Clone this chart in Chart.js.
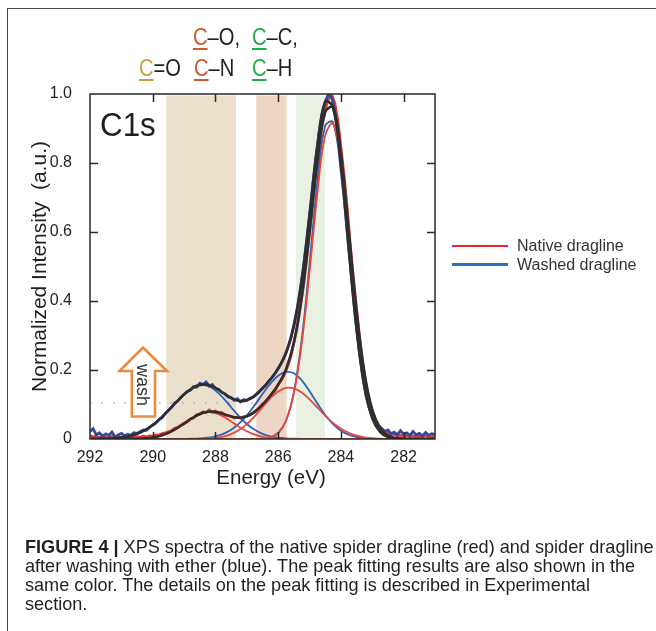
<!DOCTYPE html>
<html><head><meta charset="utf-8">
<script src="https://cdn.jsdelivr.net/npm/chart.js@4.4.1/dist/chart.umd.min.js"></script>
<style>
html,body{margin:0;padding:0;background:#fff;width:656px;height:631px;overflow:hidden;font-family:"Liberation Sans",Arial,Helvetica,sans-serif;color:#231f20;}
#frame{position:absolute;left:7px;top:8px;width:720px;height:720px;border:1.5px solid #4a4a4a;}
canvas{position:absolute;left:0;top:0;}
.t{position:absolute;white-space:nowrap;}
.lbl{font-size:24px;line-height:24px;transform-origin:0 50%;transform:scaleX(0.84);}
.u{text-decoration:underline;text-decoration-thickness:2px;text-underline-offset:3px;}
.gold{color:#c9a03c;}
.orng{color:#d2582a;}
.grn{color:#1fae4a;}
.leg{font-size:16px;line-height:16px;color:#333;}
.sw{position:absolute;left:452px;width:56px;height:2.5px;}
#cap{left:25px;top:537.8px;font-size:18.1px;line-height:18.9px;color:#231f20;}
</style></head>
<body>
<div id="frame"></div>
<canvas id="c" width="656" height="631"></canvas>

<div class="t lbl" style="left:193.3px;top:24.7px"><span class="u orng">C</span>–O,</div>
<div class="t lbl" style="left:251.7px;top:24.7px"><span class="u grn">C</span>–C,</div>
<div class="t lbl" style="left:139.3px;top:55.7px"><span class="u gold">C</span>=O</div>
<div class="t lbl" style="left:194px;top:55.7px"><span class="u orng">C</span>–N</div>
<div class="t lbl" style="left:251.7px;top:55.7px"><span class="u grn">C</span>–H</div>

<div class="t" style="left:100px;top:108px;font-size:33px;line-height:33px;transform-origin:0 50%;transform:scaleX(0.95);">C1s</div>

<svg class="t" style="left:0;top:0" width="656" height="631">
  <polygon points="143,347.5 167,371 155,371 155,416.5 131.8,416.5 131.8,371 119.5,371" fill="#fff" stroke="#ef8a3a" stroke-width="2.6" stroke-linejoin="miter"/>
</svg>
<div class="t" style="left:143px;top:385px;font-size:18px;line-height:18px;transform:translate(-50%,-50%) rotate(90deg);color:#333;">wash</div>

<div class="sw" style="top:244.5px;background:#e8262a"></div>
<div class="sw" style="top:263px;background:#2e6fba"></div>
<div class="t leg" style="left:517px;top:238px">Native dragline</div>
<div class="t leg" style="left:517px;top:256.5px">Washed dragline</div>

<div class="t" id="cap"><b>FIGURE 4 |</b> XPS spectra of the native spider dragline (red) and spider dragline<br>after washing with ether (blue). The peak fitting results are also shown in the<br>same color. The details on the peak fitting is described in Experimental<br>section.</div>

<script>
// ---- data ----
const energyRaw = [
 292.0,291.9,291.8,291.7,291.6,291.5,291.4,291.3,291.2,291.1,291.0,290.9,290.8,290.7,290.6,290.5,290.4,290.3,290.2,290.1,290.0,
 289.9,289.8,289.7,289.6,289.5,289.4,289.3,289.2,289.1,289.0,288.9,288.8,288.7,288.6,288.5,288.4,288.3,288.2,288.1,288.0,
 287.9,287.8,287.7,287.6,287.5,287.4,287.3,287.2,287.1,287.0,286.9,286.8,286.7,286.6,286.5,286.4,286.3,286.2,286.1,286.0,
 285.9,285.8,285.7,285.6,285.5,285.4,285.3,285.2,285.1,285.0,284.9,284.8,284.7,284.6,284.5,284.4,284.3,284.2,284.1,284.0,
 283.9,283.8,283.7,283.6,283.5,283.4,283.3,283.2,283.1,283.0,282.9,282.8,282.7,282.6,282.5,282.4,282.3,282.2,282.1,282.0,
 281.9,281.8,281.7,281.6,281.5,281.4,281.3,281.2,281.1,281.0
];
const nativeRaw = [
 0.010,0.006,0.008,0.004,0.009,0.005,0.003,0.007,0.004,0.006,0.002,0.005,0.003,0.006,0.004,0.007,0.005,0.008,0.006,0.009,0.008,
 0.012,0.011,0.016,0.018,0.021,0.024,0.031,0.034,0.040,0.046,0.050,0.058,0.061,0.070,0.072,0.079,0.076,0.084,0.078,0.081,
 0.075,0.077,0.070,0.068,0.066,0.061,0.064,0.060,0.065,0.066,0.072,0.075,0.083,0.090,0.101,0.108,0.118,0.131,0.140,0.158,
 0.170,0.188,0.210,0.238,0.278,0.320,0.378,0.440,0.515,0.600,0.690,0.770,0.850,0.915,0.955,0.985,1.000,0.975,0.925,0.845,
 0.765,0.670,0.560,0.465,0.375,0.290,0.215,0.160,0.112,0.082,0.058,0.040,0.030,0.022,0.016,0.012,0.014,0.009,0.011,0.007,
 0.010,0.006,0.009,0.005,0.008,0.006,0.010,0.005,0.007,0.006
];
const washedRaw = [
 0.022,0.030,0.012,0.018,0.008,0.015,0.010,0.020,0.006,0.012,0.016,0.009,0.014,0.011,0.018,0.016,0.021,0.026,0.025,0.034,0.040,
 0.046,0.056,0.062,0.074,0.083,0.092,0.104,0.110,0.121,0.130,0.138,0.141,0.152,0.150,0.162,0.158,0.165,0.153,0.158,0.146,
 0.144,0.135,0.131,0.122,0.120,0.112,0.117,0.108,0.114,0.112,0.118,0.121,0.130,0.138,0.148,0.156,0.168,0.178,0.190,0.205,
 0.220,0.240,0.262,0.292,0.330,0.375,0.432,0.495,0.570,0.650,0.735,0.815,0.885,0.940,0.978,1.000,0.990,0.955,0.895,0.810,
 0.725,0.625,0.520,0.420,0.325,0.245,0.178,0.125,0.090,0.064,0.048,0.036,0.030,0.022,0.026,0.015,0.020,0.012,0.024,0.014,
 0.018,0.010,0.022,0.012,0.016,0.009,0.019,0.011,0.015,0.013
];

const energyFit = [
 292,291.75,291.5,291.25,291,290.75,290.5,290.25,290,289.75,289.5,289.25,289,288.75,288.5,288.25,
 288,287.75,287.5,287.25,287,286.75,286.5,286.25,286,285.75,285.5,285.25,285,284.75,284.5,284.25,
 284,283.75,283.5,283.25,283,282.75,282.5,282.25,282,281.75,281.5,281.25,281
];
// native dragline fit: envelope and components (C=O, C-O/C-N, C-C/C-H)
const nativeFit = [
 0,0,0,0,0.0001,0.0003,0.0008,0.002,0.0046,0.0097,0.0179,0.0299,0.0448,0.0602,0.0726,0.0792,
 0.0786,0.0726,0.0652,0.0616,0.0655,0.0787,0.0996,0.1261,0.1574,0.2024,0.2796,0.4117,0.5991,0.8034,0.9476,0.9605,
 0.8277,0.6037,0.3718,0.1925,0.0844,0.0311,0.0096,0.0026,0.0006,0.0001,0,0,0
];
const nativeCdO = [
 0,0,0,0,0.0001,0.0003,0.0008,0.002,0.0046,0.0097,0.0179,0.0299,0.0447,0.060,0.0721,0.0778,
 0.0753,0.0654,0.0509,0.0356,0.0223,0.0125,0.0063,0.0029,0.0012,0.0004,0.0001,0,0,0,0,0,
 0,0,0,0,0,0,0,0,0,0,0,0,0
];
const nativeCO = [
 0,0,0,0,0,0,0,0,0,0,0,0,0.0001,0.0002,0.0005,0.0014,
 0.0033,0.0072,0.0143,0.026,0.0432,0.0659,0.092,0.118,0.138,0.1483,0.1465,0.1345,0.115,0.0914,0.0676,0.0465,
 0.0297,0.0177,0.0098,0.005,0.0024,0.0011,0.0004,0.0002,0.0001,0,0,0,0
];
const nativeCC = [
 0,0,0,0,0,0,0,0,0,0,0,0,0,0,0,0,
 0,0,0,0,0,0.0003,0.0013,0.0052,0.0182,0.0537,0.133,0.277,0.484,0.712,0.880,0.914,
 0.798,0.586,0.362,0.1875,0.082,0.030,0.0092,0.0024,0.0005,0.0001,0,0,0
];
// washed dragline fit
const washedFit = [
 0.0002,0.0004,0.001,0.0022,0.0045,0.0085,0.0153,0.0258,0.0406,0.0598,0.0826,0.1067,0.1293,0.147,0.1569,0.1574,
 0.1483,0.1334,0.1188,0.1104,0.1122,0.1249,0.1462,0.1729,0.2042,0.2489,0.3267,0.4583,0.6466,0.8487,0.9775,0.9609,
 0.7951,0.5503,0.3168,0.1525,0.0608,0.0202,0.0056,0.0012,0.0002,0,0,0,0
];
const washedCdO = [
 0.0002,0.0004,0.001,0.0022,0.0045,0.0085,0.0153,0.0258,0.0406,0.0598,0.0826,0.1067,0.129,0.1463,0.1552,0.1537,
 0.1406,0.1185,0.0921,0.066,0.0436,0.0266,0.0149,0.0078,0.0037,0.0016,0.0007,0.0003,0.0001,0,0,0,
 0,0,0,0,0,0,0,0,0,0,0,0,0
];
const washedCO = [
 0,0,0,0,0,0,0,0,0,0,0,0,0.0003,0.0007,0.0017,0.0037,
 0.0077,0.0149,0.0267,0.0444,0.0686,0.0981,0.1303,0.1605,0.1834,0.1944,0.1904,0.170,0.1385,0.1027,0.0695,0.0429,
 0.0241,0.0123,0.0058,0.0025,0.001,0.0003,0.0001,0,0,0,0,0,0
];
const washedCC = [
 0,0,0,0,0,0,0,0,0,0,0,0,0,0,0,0,
 0,0,0,0,0,0.0002,0.001,0.0046,0.0171,0.0529,0.1356,0.288,0.508,0.746,0.908,0.918,
 0.771,0.538,0.311,0.150,0.0598,0.0199,0.0055,0.0012,0.0002,0,0,0,0
];

const xTicks = [292, 290, 288, 286, 284, 282];
const xTickLabels = ['292', '290', '288', '286', '284', '282'];
const yTicks = [0, 0.2, 0.4, 0.6, 0.8, 1.0];
const yTickLabels = ['0', '0.2', '0.4', '0.6', '0.8', '1.0'];
// shaded binding-energy regions: C=O, C-O/C-N, C-C/C-H
const bandHigh = [289.57, 286.70, 285.43];
const bandLow  = [287.34, 285.73, 284.51];
const guideEnergy = [292, 286.3];
const guideLevel = [0.105, 0.105];

// ---- build ----
const bandColors = ['#ebe0cb', '#eed6c5', '#e9f1e3'];
const pts = (xs, ys) => xs.map((x, i) => ({x: x, y: ys[i]}));
const labelFor = (vals, labels) => (v) => {
  const i = vals.findIndex(t => Math.abs(t - v) < 1e-9);
  return i >= 0 ? labels[i] : '';
};

const decor = {
  id: 'decor',
  beforeDatasetsDraw(chart) {
    const {ctx, chartArea: a, scales: {x}} = chart;
    ctx.save();
    bandLow.forEach((lo, i) => {
      const p1 = x.getPixelForValue(bandHigh[i]);
      const p2 = x.getPixelForValue(lo);
      ctx.fillStyle = bandColors[i];
      ctx.fillRect(Math.min(p1, p2), a.top + 1.5, Math.abs(p2 - p1), a.bottom - a.top - 1.5);
    });
    ctx.restore();
  },
  afterDatasetsDraw(chart) {
    const {ctx, chartArea: a, scales: {x, y}} = chart;
    ctx.save();
    ctx.strokeStyle = '#2a2a2a';
    ctx.lineWidth = 1.5;
    ctx.beginPath();
    xTicks.forEach(v => {
      const p = Math.round(x.getPixelForValue(v)) + 0.5;
      if (p <= a.left + 2 || p >= a.right - 2) return;
      ctx.moveTo(p, a.top); ctx.lineTo(p, a.top + 8);
      ctx.moveTo(p, a.bottom); ctx.lineTo(p, a.bottom - 7);
    });
    yTicks.forEach(v => {
      const p = Math.round(y.getPixelForValue(v)) + 0.5;
      if (p <= a.top + 2 || p >= a.bottom - 2) return;
      ctx.moveTo(a.left, p); ctx.lineTo(a.left + 8, p);
      ctx.moveTo(a.right, p); ctx.lineTo(a.right - 8, p);
    });
    ctx.stroke();
    ctx.strokeRect(a.left, a.top, a.right - a.left, a.bottom - a.top);
    ctx.restore();
  }
};

const fitStyle = (color, w, order) => ({borderColor: color, borderWidth: w, pointRadius: 0, tension: 0.4, fill: false, order: order});
const rawStyle = (color, w, order) => ({borderColor: color, borderWidth: w, pointRadius: 0, tension: 0, fill: false, order: order});

new Chart(document.getElementById('c'), {
  type: 'line',
  data: {
    datasets: [
      Object.assign({label: 'Native fit', data: pts(energyFit, nativeFit)}, fitStyle('#2e2e2e', 2.6, 0)),
      Object.assign({label: 'Washed fit', data: pts(energyFit, washedFit)}, fitStyle('#2e2e2e', 2.6, 0)),
      Object.assign({label: 'Native C=O', data: pts(energyFit, nativeCdO)}, fitStyle('#e8473b', 1.8, 1)),
      Object.assign({label: 'Native C-O', data: pts(energyFit, nativeCO)}, fitStyle('#e8473b', 1.8, 1)),
      Object.assign({label: 'Native C-C', data: pts(energyFit, nativeCC)}, fitStyle('#e8473b', 1.8, 1)),
      Object.assign({label: 'Washed C=O', data: pts(energyFit, washedCdO)}, fitStyle('#3060b4', 1.8, 1)),
      Object.assign({label: 'Washed C-O', data: pts(energyFit, washedCO)}, fitStyle('#3060b4', 1.8, 1)),
      Object.assign({label: 'Washed C-C', data: pts(energyFit, washedCC)}, fitStyle('#3060b4', 1.8, 1)),
      Object.assign({label: 'Washed dragline', data: pts(energyRaw, washedRaw)}, rawStyle('#34479a', 2.8, 2)),
      Object.assign({label: 'Native dragline', data: pts(energyRaw, nativeRaw)}, rawStyle('#e83a30', 2.8, 3)),
      {label: 'guide', data: pts(guideEnergy, guideLevel), borderColor: '#a0a0a0', borderWidth: 1.2,
       borderDash: [1.5, 10], pointRadius: 0, order: 4}
    ]
  },
  options: {
    responsive: false,
    devicePixelRatio: 1,
    animation: false,
    events: [],
    layout: {padding: {left: 0, top: 94, right: 221, bottom: 140}},
    plugins: {legend: {display: false}, tooltip: {enabled: false}},
    scales: {
      x: {
        type: 'linear', reverse: true, min: 281, max: 292,
        afterBuildTicks: (s) => { s.ticks = xTicks.map(v => ({value: v})); },
        afterFit: (s) => { s.height = 52; },
        grid: {display: false},
        border: {display: false},
        ticks: {padding: 1, color: '#231f20', font: {family: '"Liberation Sans", Arial', size: 16},
                maxRotation: 0, autoSkip: false, callback: labelFor(xTicks, xTickLabels)},
        title: {display: true, text: '   Energy (eV)', color: '#231f20',
                font: {family: '"Liberation Sans", Arial', size: 20.5}, padding: {top: 0, bottom: 0}}
      },
      y: {
        type: 'linear', min: 0, max: 1.0,
        afterBuildTicks: (s) => { s.ticks = yTicks.map(v => ({value: v})); },
        afterFit: (s) => { s.width = 90; },
        grid: {display: false},
        border: {display: false},
        ticks: {padding: 10, color: '#231f20', font: {family: '"Liberation Sans", Arial', size: 16},
                autoSkip: false, callback: labelFor(yTicks, yTickLabels)},
        title: {display: true, text: 'Normalized Intensity  (a.u.)', color: '#231f20',
                font: {family: '"Liberation Sans", Arial', size: 21}, padding: {top: 28, bottom: 0}}
      }
    }
  },
  plugins: [decor]
});
</script>
</body></html>
